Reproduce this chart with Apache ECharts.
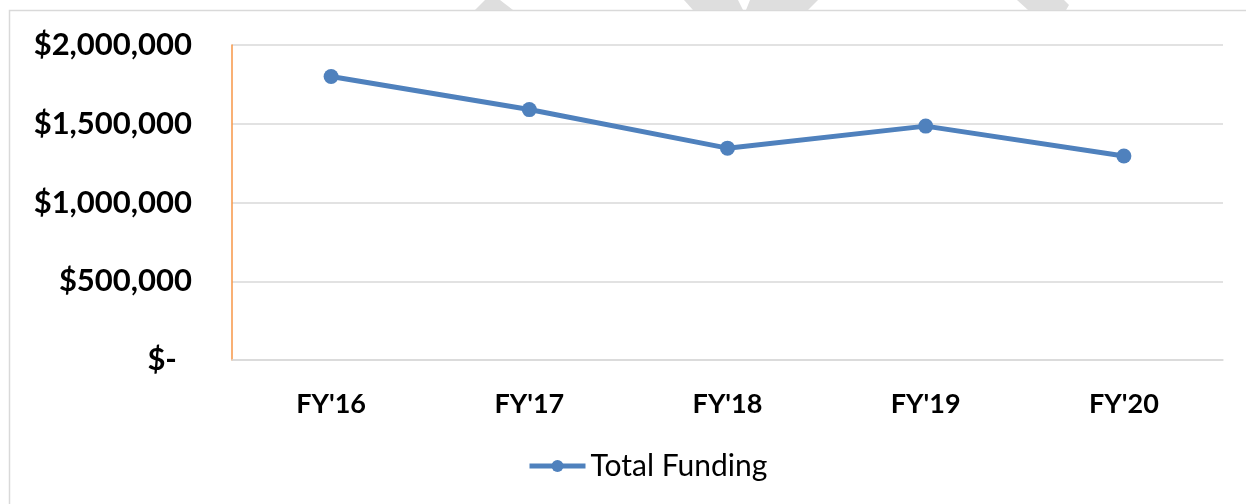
<!DOCTYPE html>
<html>
  <script src="https://cdn.jsdelivr.net/npm/echarts@6/dist/echarts.min.js"></script>
  <head>
    <meta charset="utf-8" />
    <title>Total Funding</title>
    <style>
      html, body { margin: 0; padding: 0; background: #fff; }
    </style>
  </head>
  <body>
    <div id="funding" style="width: 1246px; height: 504px;"></div>
  </body>
  <script>
    var years = ["FY'16", "FY'17", "FY'18", "FY'19", "FY'20"]
    var totalFunding = [1800000, 1590000, 1345000, 1485000, 1295000]
    var seriesName = 'Total Funding'

    function money(v) {
      if (v === 0) return '$-  '
      return '$' + v.toLocaleString('en-US')
    }

    var chartDom = document.getElementById('funding')
    var myChart = echarts.init(chartDom)
    var option = {
      animation: false,
      textStyle: { fontFamily: 'Lato' },
      graphic: [
        {
          type: 'rect',
          shape: { x: 9.5, y: 10.5, width: 1260, height: 520 },
          style: { fill: null, stroke: '#d9d9d9', lineWidth: 1.5 },
        },
        // watermark fragments above the frame
        { type: 'polygon', shape: { points: [[485, 0], [500, 0], [513, 10], [475, 10]] }, style: { fill: '#dedede' } },
        { type: 'polygon', shape: { points: [[684, 0], [738, 0], [743, 10], [693, 10]] }, style: { fill: '#dedede' } },
        { type: 'polygon', shape: { points: [[750, 0], [818, 0], [808, 10], [746, 10]] }, style: { fill: '#dedede' } },
        { type: 'polygon', shape: { points: [[1017, 0], [1064, 0], [1069, 5], [1066, 10], [1028, 10]] }, style: { fill: '#dedede' } },
      ],
      grid: { left: 232, right: 23, top: 45, bottom: 144, containLabel: false },
      legend: {
        data: [seriesName],
        left: 527,
        top: 451,
        padding: 0,
        itemWidth: 56,
        itemHeight: 15,
        itemGap: 5,
        lineStyle: { width: 5 },
        textStyle: { fontFamily: 'Lato', fontSize: 30, color: '#000' },
      },
      xAxis: {
        type: 'category',
        data: years,
        boundaryGap: true,
        axisLine: { lineStyle: { color: '#d9d9d9', width: 1.5 } },
        axisTick: { show: false },
        axisLabel: { margin: 31, fontSize: 27, fontWeight: 'bold', color: '#000' },
      },
      yAxis: {
        type: 'value',
        min: 0,
        max: 2000000,
        interval: 500000,
        axisLine: { show: true, lineStyle: { color: '#f79646', width: 1.5 } },
        axisTick: { show: false },
        splitLine: { lineStyle: { color: '#d9d9d9', width: 1.5 } },
        axisLabel: { margin: 40, fontSize: 31, fontWeight: 'bold', color: '#000', formatter: money },
      },
      series: [
        {
          name: seriesName,
          type: 'line',
          data: totalFunding,
          symbol: 'circle',
          symbolSize: 15,
          itemStyle: { color: '#4f81bd' },
          lineStyle: { color: '#4f81bd', width: 5 },
        },
      ],
    }
    option && myChart.setOption(option)
  </script>
</html>
